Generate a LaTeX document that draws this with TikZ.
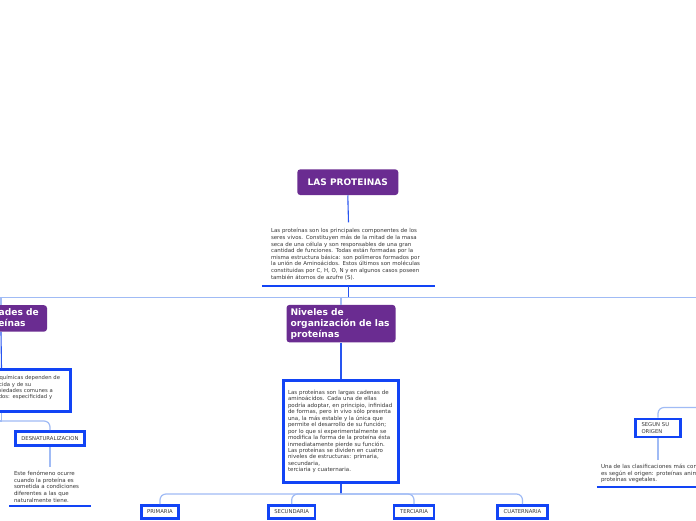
\documentclass[tikz,border=0pt]{standalone}
\usepackage{fontspec}
\setmainfont{DejaVu Sans}
\definecolor{mindpurple}{RGB}{106,44,145}
\definecolor{nodeblue}{RGB}{18,68,245}
\definecolor{stemblue}{RGB}{40,85,240}
\definecolor{linkblue}{RGB}{160,187,245}
\definecolor{bodygray}{RGB}{55,55,55}

\begin{document}
\begin{tikzpicture}[x=1pt, y=-1pt,
    every node/.style={font=\fontsize{5.5}{6.5}\selectfont, text=bodygray},
    topic/.style={fill=mindpurple, rounded corners=3pt, text=white,
      font=\bfseries\fontsize{9.1}{11}\selectfont},
    framebox/.style={draw=nodeblue, line width=2.6pt, fill=white,
      inner xsep=6pt, minimum height=13.4pt, font=\fontsize{5.3}{7.3}\selectfont},
    plain/.style={align=left, inner ysep=4pt},
    link/.style={draw=linkblue, line width=1.2pt},
    stem/.style={draw=stemblue, line width=1.1pt},
    uline/.style={draw=nodeblue, line width=2.7pt}]
    \useasboundingbox (0,0) rectangle (696,520);
    \fill[white] (0,0) rectangle (696,520);
    \clip (0,0) rectangle (696,520);

    % Tema central
    \node[topic, minimum width=101pt, minimum height=25.7pt,
      font=\bfseries\fontsize{9}{10}\selectfont] (title) at (347.8,182.2) {LAS PROTEINAS};
    \node[plain, text width=155pt, inner xsep=9pt, inner ysep=6pt, anchor=south,
      font=\fontsize{5.45}{6.6}\selectfont] (desc) at (348.5,286) {Las proteínas son los principales componentes de los\\
      seres vivos. Constituyen más de la mitad de la masa\\
      seca de una célula y son responsables de una gran\\
      cantidad de funciones. Todas están formadas por la\\
      misma estructura básica: son polímeros formados por\\
      la unión de Aminoácidos. Estos últimos son moléculas\\
      constituidas por C, H, O, N y en algunos casos poseen\\
      también átomos de azufre (S).};
    \draw[uline] (desc.south west) -- (desc.south east);
    \draw[stem] (title.south) -- (desc.north);

    % Ramas principales
    \coordinate (topfork) at (348.5,297.5);
    \coordinate (farleft) at (-10,297.5);
    \coordinate (farright) at (710,297.5);
    \node[topic, text width=84pt, inner xsep=4pt, align=left, anchor=north] (props) at (1,305) {Propiedades de\\las proteínas};
    \node[topic, text width=101pt, inner xsep=4pt, align=left, anchor=north] (niveles) at (341,304.7) {Niveles de\\organización de las\\proteínas};
    \draw[stem] (desc.south) -- (topfork);
    \draw[link] (farleft) -- (farright);
    \draw[link] (props.north |- topfork) -- (props.north);
    \draw[link] (niveles.north |- topfork) -- (niveles.north);

    % Propiedades
    \node[framebox, text width=127pt, inner xsep=5.5pt, inner ysep=6pt, align=left, anchor=north,
      font=\fontsize{5.3}{6.4}\selectfont] (proptext) at (1.5,368.2) {Sus propiedades físico-químicas dependen de\\
      la composición aminoácida y de su\\
      estructura. Tienen propiedades comunes a\\
      todas. Se resumen en dos: especificidad y\\
      solubilidad.};
    \draw[stem] (props.south) -- (proptext.north);
    \coordinate (propfork) at (1.5,421);
    \coordinate (propleft) at (-10,421);
    \node[framebox, minimum height=14.4pt] (desnat) at (50,438.5) {DESNATURALIZACION};
    \draw[link] (proptext.south) -- (propfork);
    \draw[link] (propfork) -- (propleft);
    \draw[link, rounded corners=6pt] (propfork) -| (desnat.north);
    \node[plain, text width=72pt, inner xsep=4.7pt, anchor=south,
      font=\fontsize{5.5}{6.6}\selectfont] (desnattext) at (50,506.3) {Este fenómeno ocurre\\
      cuando la proteína es\\
      sometida a condiciones\\
      diferentes a las que\\
      naturalmente tiene.};
    \draw[uline, line width=2pt] (desnattext.south west) -- (desnattext.south east);
    \draw[link] (desnat.south) -- (desnattext.north);

    % Niveles de organizacion
    \node[framebox, text width=106pt, inner xsep=4.5pt, inner ysep=9.5pt, align=left, anchor=north,
      font=\fontsize{5.5}{6.45}\selectfont] (nivtext) at (341,379.2) {Las proteínas son largas cadenas de\\
      aminoácidos. Cada una de ellas\\
      podría adoptar, en principio, infinidad\\
      de formas, pero in vivo sólo presenta\\
      una, la más estable y la única que\\
      permite el desarrollo de su función;\\
      por lo que si experimentalmente se\\
      modifica la forma de la proteína ésta\\
      inmediatamente pierde su función.\\
      Las proteínas se dividen en cuatro\\
      niveles de estructuras: primaria,\\
      secundaria,\\
      terciaria y cuaternaria.};
    \draw[stem] (niveles.south) -- (nivtext.north);
    \coordinate (nivfork) at (341,494);
    \node[framebox] (prim) at (160,512) {PRIMARIA};
    \node[framebox] (secu) at (291.7,512) {SECUNDARIA};
    \node[framebox] (terc) at (414,512) {TERCIARIA};
    \node[framebox] (cuat) at (522.5,512) {CUATERNARIA};
    \draw[stem] (nivtext.south) -- (nivfork);
    \foreach \k in {prim,secu,terc,cuat}
      \draw[link, rounded corners=6pt] (nivfork) -| (\k.north);

    % Clasificacion
    \coordinate (origright) at (710,407.5);
    \node[framebox, text width=33pt, align=left, minimum height=17.4pt] (origen) at (658,428) {SEGUN SU\\ORIGEN};
    \draw[link, rounded corners=6pt] (origen.north) |- (origright);
    \node[plain, text width=120pt, inner xsep=4pt, anchor=south,
      font=\fontsize{5.5}{6.5}\selectfont] (origtext) at (661,487) {Una de las clasificaciones más conocidas\\
      es según el origen: proteínas animales y\\
      proteínas vegetales.};
    \draw[uline] (origtext.south west) -- (origtext.south east);
    \draw[link] (origen.south) -- (origen.south |- origtext.north);
\end{tikzpicture}
\end{document}
